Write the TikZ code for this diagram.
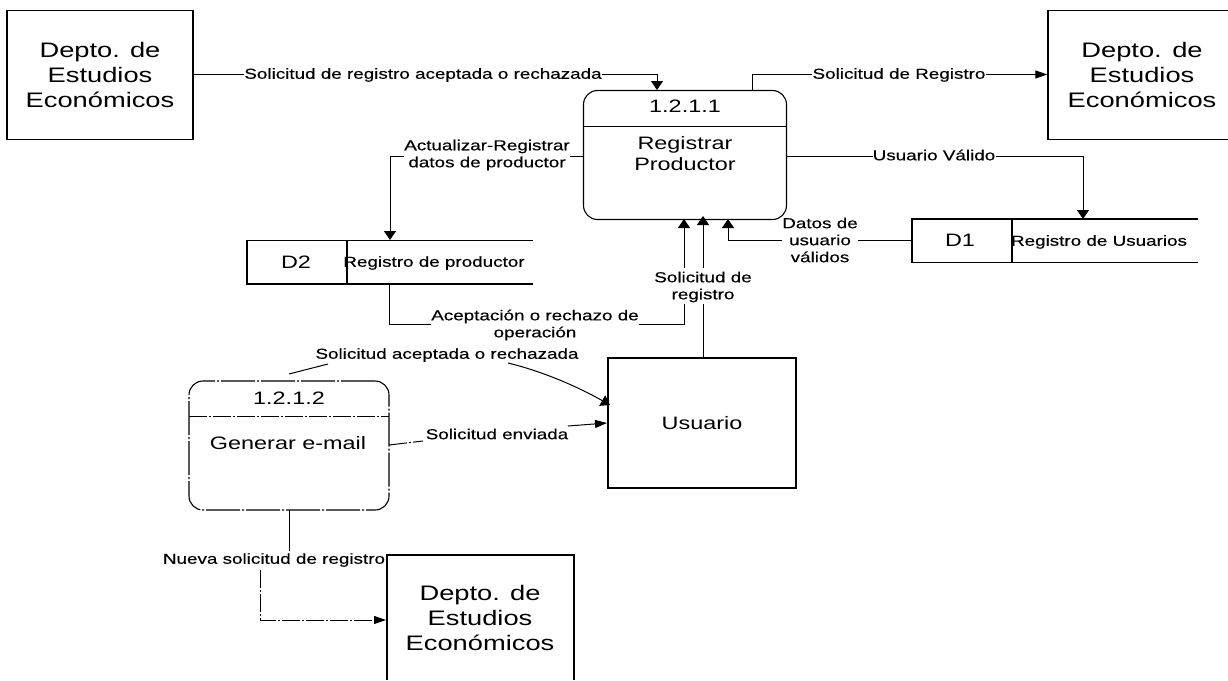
\documentclass[tikz,border=0pt]{standalone}
\usepackage{fontspec}
\setmainfont{Liberation Sans}
\newfontfamily\widefont[FakeStretch=1.3]{Liberation Sans}
\newfontfamily\labelfont[FakeStretch=1.3,FakeBold=0.35]{Liberation Sans}
\usetikzlibrary{arrows.meta,calc}
\tikzset{
  ent/.style={draw,line width=1.3pt,fill=white,align=center,font=\widefont\fontsize{21}{25}\selectfont,inner sep=0pt},
  lbl/.style={font=\labelfont\fontsize{14.5}{17}\selectfont,inner sep=0pt,align=center},
  ln/.style={line width=1pt},
  arv/.style={line width=1pt,-{Triangle[length=9pt,width=12pt]}},
  arh/.style={line width=1pt,-{Triangle[length=12pt,width=8pt]}},
  big/.style={font=\widefont\fontsize{18}{21}\selectfont,align=center,inner sep=0pt},
  proc/.style={draw,line width=1.1pt,rounded corners=14pt},
  dsl/.style={line width=1.3pt},
  dashbox/.style={dash pattern=on 34pt off 2pt on 2pt off 2pt},
  dashy/.style={dash pattern=on 18pt off 2pt on 2pt off 2pt}
}
\begin{document}
\begin{tikzpicture}[x=1pt,y=-1pt]
\useasboundingbox (0,0) rectangle (1228,680);
% entities
\node[ent,minimum width=186pt,minimum height=129pt] (e1) at (100,75) {Depto. de\\Estudios\\Económicos};
\node[ent,minimum width=185pt,minimum height=129pt,text width=185pt,xshift=0pt] (e2) at (1140.5,75) {\hspace*{3pt}Depto. de\\\hspace*{3pt}Estudios\\\hspace*{3pt}Económicos};
\draw[ent] (387,680) -- (387,555) -- (574,555) -- (574,680);
\node[ent,draw=none,fill=none] (e3) at (480,618) {Depto. de\\Estudios\\Económicos};
\node[ent,minimum width=188pt,minimum height=130pt,font=\widefont\fontsize{18}{21}\selectfont] (u) at (702,423) {Usuario};
% process 1
\node[proc,minimum width=203pt,minimum height=129pt] (p1) at (685,155) {};
\draw[ln] (583.5,126) -- (786.5,126);
\node[big] (p1n) at (685,106) {1.2.1.1};
\node[big] (p1t) at (685,154) {Registrar\\Productor};
% process 2
\node[proc,dashbox,minimum width=200pt,minimum height=129pt] (p2) at (289,445.5) {};
\draw[ln,dashy] (189,416) -- (389,416);
\node[big] (p2n) at (289,398) {1.2.1.2};
\node[big] (p2t) at (288,443) {Generar e-mail};
% stores
\draw[dsl] (533,240.5) -- (247,240.5) -- (247,284) -- (533,284);
\draw[dsl] (347,240.5) -- (347,284);
\node[big] (d2n) at (296,262) {D2};
\node[lbl] (d2t) at (434,263) {Registro de productor};
\draw[dsl] (1198,219) -- (912,219) -- (912,262.5) -- (1198,262.5);
\draw[dsl] (1012,219) -- (1012,262.5);
\node[big] (d1n) at (960,240) {D1};
\node[lbl] (d1t) at (1099,242) {Registro de Usuarios};
% connector labels
\node[lbl] (l1) at (423,75) {Solicitud de registro aceptada o rechazada};
\node[lbl] (l2) at (899,75) {Solicitud de Registro};
\node[lbl] (l3) at (934,155) {Usuario Válido};
\node[lbl] (l4) at (487,155) {Actualizar-Registrar\\datos de productor};
\node[lbl] (l5) at (820,240) {Datos de\\usuario\\válidos};
\node[lbl] (l6) at (535,325) {Aceptación o rechazo de\\operación};
\node[lbl] (l7) at (703,287) {Solicitud de\\registro};
\node[lbl] (l8) at (447,355) {Solicitud aceptada o rechazada};
\node[lbl] (l9) at (497,434) {Solicitud enviada};
\node[lbl] (l10) at (274,560) {Nueva solicitud de registro};
% connectors
\draw[ln] (e1.east |- 0,74.5) -- (l1.west |- 0,74.5);
\draw[arv] (l1.east |- 0,74.5) -| (657,90);
\draw[ln] (752,90) |- (l2.west |- 0,74.5);
\draw[arh] (l2.east |- 0,74.5) -- (e2.west |- 0,74.5);
\draw[ln] (786,156) -- (l3.west |- 0,156);
\draw[arv] (l3.east |- 0,156) -| (1083,219);
\draw[ln] (583,156) -- (l4.east |- 0,156);
\draw[arv] (l4.west |- 0,156) -| (390,240);
\draw[ln] (912,240) -- (l5.east |- 0,240);
\draw[arv] (l5.west |- 0,240) -| (728,219);
\draw[ln] (389,284) |- (l6.west |- 0,324);
\draw[ln] (l6.east |- 0,324) -| (684,304);
\draw[arv] (684,268) -- (684,219);
\draw[ln] (703,358) -- (703,304);
\draw[arv] (703,268) -- (703,216);
\draw[ln] (289,374) -- (328,364);
\draw[arv] (508,363) .. controls (545,372) and (580,388) .. (610,405);
\draw[ln,dashy] (389,445) -- (423,441);
\draw[arh] (568,426) -- (607,423);
\draw[ln] (289,510) -- (289,551);
\draw[arh,dashy] (260,570) -- (260,620) -- (386,620);
\end{tikzpicture}
\end{document}
